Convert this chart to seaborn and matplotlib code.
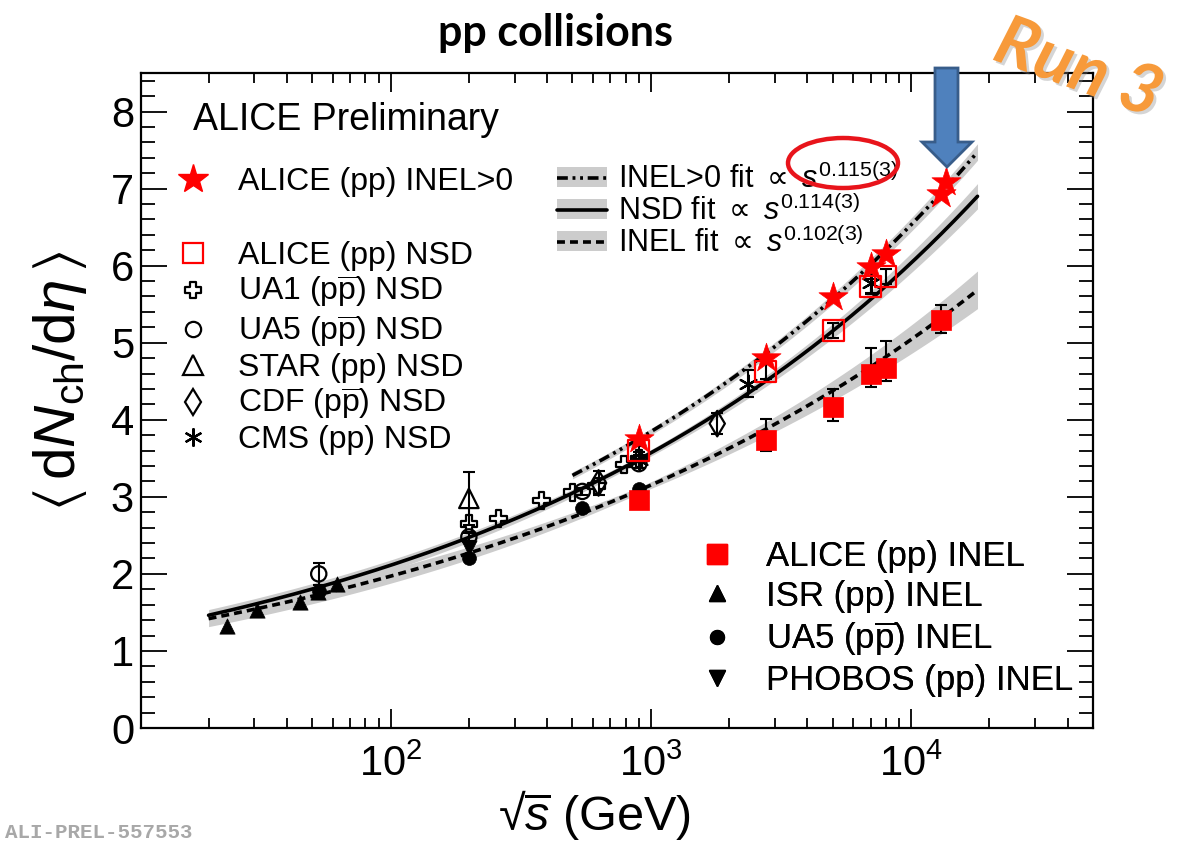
import numpy as np
import pandas as pd
import matplotlib
matplotlib.use("Agg")
import matplotlib.pyplot as plt
import seaborn as sns
from matplotlib.lines import Line2D
from matplotlib.patches import Patch, Ellipse, Polygon
from matplotlib.path import Path
import matplotlib.patheffects as pe
from matplotlib.ticker import LogLocator, MultipleLocator, NullFormatter

# ---------------- data ----------------
alice_inel0_x = [900, 2760, 5020, 7000, 8000, 13000, 13600]
alice_inel0_y = [3.75, 4.80, 5.59, 5.98, 6.15, 6.93, 7.08]

alice_nsd_x = [900, 2760, 5020, 7000, 8000]
alice_nsd_y = [3.60, 4.63, 5.16, 5.73, 5.86]
alice_nsd_err = [0.06, 0.10, 0.10, 0.10, 0.10]

ua1_x = [200, 260, 380, 500, 620, 790, 900]
ua1_y = [2.65, 2.72, 2.95, 3.06, 3.14, 3.42, 3.50]
ua5_nsd_x = [53, 200, 546, 900]
ua5_nsd_y = [2.00, 2.48, 3.07, 3.43]
ua5_nsd_err = [0.14, 0.05, 0.05, 0.05]
star_x = [200]
star_y = [2.98]
star_err = [0.34]
cdf_x = [630, 1800]
cdf_y = [3.18, 3.95]
cdf_err = [0.15, 0.14]
cms_x = [900, 2360, 7000]
cms_y = [3.48, 4.47, 5.78]
cms_err = [0.10, 0.17, 0.13]

alice_inel_x = [900, 2760, 5020, 7000, 8000, 13000]
alice_inel_y = [2.96, 3.74, 4.16, 4.59, 4.67, 5.30]
alice_inel_eup = [0.10, 0.27, 0.24, 0.34, 0.35, 0.19]
alice_inel_elo = [0.05, 0.14, 0.18, 0.17, 0.17, 0.18]
isr_x = [23.6, 30.8, 44.9, 52.6, 62.2]
isr_y = [1.33, 1.53, 1.64, 1.76, 1.87]
ua5_inel_x = [53, 200, 546, 900]
ua5_inel_y = [1.78, 2.21, 2.85, 3.10]
phobos_x = [200]
phobos_y = [2.34]

# power-law fits  dN/deta = a * s^b   (s = sqrt(s)^2)
fit_names = ["INEL>0", "NSD", "INEL"]
fit_norm = [0.785, 0.739, 0.770]
fit_exp = [0.115, 0.114, 0.102]
fit_xmin = [500, 20, 20]
fit_xmax = [18000, 18000, 18000]
fit_band = [0.003, 0.006, 0.012]
fit_labels = [r"INEL>0 fit $\mathsf{\propto}$ $s^{0.115(3)}$",
              r"NSD fit $\mathsf{\propto}$ $s^{0.114(3)}$",
              r"INEL fit $\mathsf{\propto}$ $s^{0.102(3)}$"]

# ---------------- style ----------------
sns.set_theme(style="ticks")
plt.rcParams["font.family"] = ["Liberation Sans", "DejaVu Sans"]
plt.rcParams["mathtext.fontset"] = "custom"
plt.rcParams["mathtext.rm"] = "Liberation Sans"
plt.rcParams["mathtext.it"] = "Liberation Sans:italic"
plt.rcParams["mathtext.bf"] = "Liberation Sans:bold"
plt.rcParams["mathtext.sf"] = "DejaVu Sans"
plt.rcParams["mathtext.fallback"] = "stixsans"
plt.rcParams["axes.linewidth"] = 1.5
plt.rcParams["text.color"] = "black"
plt.rcParams["axes.labelcolor"] = "black"
plt.rcParams["xtick.color"] = "black"
plt.rcParams["ytick.color"] = "black"
plt.rcParams["legend.labelcolor"] = "black"

W, H = 1179, 850
fig = plt.figure(figsize=(W / 100, H / 100), dpi=100)
fig.patch.set_facecolor("white")
L, R, T, B = 141, 1093, 73, 728
ax = fig.add_axes([L / W, 1 - B / H, (R - L) / W, (B - T) / H])
ax.set_facecolor("white")

# ---------------- fits ----------------
dash_styles = [(0, (3, 1.3, 0.8, 1.3, 0.8, 1.3)), "-", (0, (2.2, 1.4))]
band_color = "#cccccc"
for i in range(3):
    xs = np.geomspace(fit_xmin[i], fit_xmax[i], 300)
    ys = fit_norm[i] * xs ** (2 * fit_exp[i])
    r = (xs / 900.0) ** fit_band[i]
    lo = ys * np.minimum(r, 1 / r) - 0.04
    hi = ys * np.maximum(r, 1 / r) + 0.04
    ax.fill_between(xs, lo, hi, color=band_color, lw=0, zorder=1)
    sns.lineplot(x=xs, y=ys, ax=ax, color="black", lw=2.6, linestyle=dash_styles[i],
                 sort=False, estimator=None, zorder=2, legend=False)

# ---------------- markers ----------------
plus_v = np.array([[-1, 3], [1, 3], [1, 1], [3, 1], [3, -1], [1, -1], [1, -3],
                   [-1, -3], [-1, -1], [-3, -1], [-3, 1], [-1, 1], [-1, 3]]) / 3.0
plus_marker = Path(plus_v, closed=True)


def errs(x, y, yerr, color="black", z=4):
    ax.errorbar(x, y, yerr=yerr, fmt="none", ecolor=color, elinewidth=1.5,
                capsize=4, capthick=1.5, zorder=z)


def pts(x, y, marker, size, face, edge, lw=1.5, z=5):
    sns.scatterplot(x=x, y=y, marker=marker, s=size ** 2, facecolor=face,
                    edgecolor=edge, linewidth=lw, ax=ax, zorder=z, legend=False)


# INEL points
errs(alice_inel_x, alice_inel_y, [alice_inel_elo, alice_inel_eup])
pts(isr_x, isr_y, "^", 11, "black", "black", 0.5)
pts(ua5_inel_x, ua5_inel_y, "o", 10, "black", "black", 0.5)
pts(phobos_x, phobos_y, "v", 11, "black", "black", 0.5)
pts(alice_inel_x, alice_inel_y, "s", 15, "#ff0000", "#ff0000", 0.5, z=6)

# NSD points
errs(ua5_nsd_x, ua5_nsd_y, ua5_nsd_err)
errs(star_x, star_y, star_err)
errs(cdf_x, cdf_y, cdf_err)
errs(cms_x, cms_y, cms_err)
errs(alice_nsd_x, alice_nsd_y, alice_nsd_err)
pts(ua1_x, ua1_y, plus_marker, 12, "none", "black", 1.6)
pts(ua5_nsd_x, ua5_nsd_y, "o", 11, "none", "black", 1.6)
pts(star_x, star_y, "^", 14, "none", "black", 1.6)
pts(cdf_x, cdf_y, "d", 13, "none", "black", 1.6)
sns.scatterplot(x=cms_x, y=cms_y, marker=(6, 2, 0), s=13 ** 2, color="black",
                linewidth=1.6, ax=ax, zorder=5, legend=False)
pts(alice_nsd_x, alice_nsd_y, "s", 15, "none", "#ff0000", 1.6, z=6)

# INEL>0
pts(alice_inel0_x, alice_inel0_y, "*", 22, "#ff0000", "#ff0000", 0.5, z=7)

# ---------------- axes ----------------
ax.set_xscale("log")
ax.set_xlim(11, 5e4)
ax.set_ylim(0, 8.5)
ax.yaxis.set_major_locator(MultipleLocator(1))
ax.yaxis.set_minor_locator(MultipleLocator(0.2))
ax.xaxis.set_major_locator(LogLocator(base=10, numticks=10))
ax.xaxis.set_minor_locator(LogLocator(base=10, subs=np.arange(2, 10), numticks=20))
ax.xaxis.set_minor_formatter(NullFormatter())
ax.tick_params(which="both", direction="in", top=True, right=True, width=1.3,
               colors="black", labelsize=30)
ax.tick_params(axis="y", which="major", length=19, pad=5)
ax.tick_params(axis="y", which="minor", length=10)
ax.tick_params(axis="x", which="major", length=14, pad=12)
ax.tick_params(axis="x", which="minor", length=7)
for s in ax.spines.values():
    s.set_linewidth(1.6)
    s.set_color("black")

ax.set_xlabel(r"√$\overline{s}$ (GeV)", fontsize=35, color="black")
ax.xaxis.set_label_coords(0.476, -0.091)
ax.set_ylabel(r"$\langle\,\mathrm{d}N_{\mathrm{ch}}/\mathrm{d}\eta\,\rangle$", fontsize=42,
              color="black")
ax.yaxis.set_label_coords(-0.055, 0.53)

# ---------------- legends ----------------
ftr = fig.transFigure


def fpos(x, y):
    return (x / W, 1 - y / H)


common = dict(loc="upper left", bbox_transform=ftr, frameon=False, borderpad=0,
              borderaxespad=0, labelcolor="black")

inel0_handles = [Line2D([], [], ls="none", marker="*", ms=22, mfc="#ff0000", mec="#ff0000")]
leg0 = ax.legend(inel0_handles, ["ALICE (pp) INEL>0"], bbox_to_anchor=fpos(174, 167),
                 fontsize=23, handlelength=1.2, handletextpad=0.8, **common)
ax.add_artist(leg0)

nsd_handles = [
    Line2D([], [], ls="none", marker="s", ms=15, mfc="none", mec="#ff0000", mew=1.6),
    Line2D([], [], ls="none", marker=plus_marker, ms=12, mfc="none", mec="black", mew=1.6),
    Line2D([], [], ls="none", marker="o", ms=11, mfc="none", mec="black", mew=1.6),
    Line2D([], [], ls="none", marker="^", ms=14, mfc="none", mec="black", mew=1.6),
    Line2D([], [], ls="none", marker="d", ms=13, mfc="none", mec="black", mew=1.6),
    Line2D([], [], ls="none", marker=(6, 2, 0), ms=13, color="black", mew=1.6),
]
nsd_labels = ["ALICE (pp) NSD", r"UA1 (p$\overline{\mathrm{p}}$) NSD",
              r"UA5 (p$\overline{\mathrm{p}}$) NSD", "STAR (pp) NSD",
              r"CDF (p$\overline{\mathrm{p}}$) NSD", "CMS (pp) NSD"]
leg1 = ax.legend(nsd_handles, nsd_labels, bbox_to_anchor=fpos(174, 241),
                 fontsize=23, handlelength=1.2, handletextpad=0.8, labelspacing=0.1, **common)
ax.add_artist(leg1)

fit_handles = [(Patch(facecolor=band_color, edgecolor="none"),
                Line2D([], [], color="black", lw=2.6, linestyle=dash_styles[i])) for i in range(3)]
leg2 = ax.legend(fit_handles, fit_labels, bbox_to_anchor=fpos(557, 163),
                 fontsize=22, handlelength=1.65, handleheight=0.65, handletextpad=0.35,
                 labelspacing=0.0, **common)
ax.add_artist(leg2)

inel_handles = [
    Line2D([], [], ls="none", marker="s", ms=15, mfc="#ff0000", mec="#ff0000"),
    Line2D([], [], ls="none", marker="^", ms=11, mfc="black", mec="black"),
    Line2D([], [], ls="none", marker="o", ms=10, mfc="black", mec="black"),
    Line2D([], [], ls="none", marker="v", ms=11, mfc="black", mec="black"),
]
inel_labels = ["ALICE (pp) INEL", "ISR (pp) INEL", r"UA5 (p$\overline{\mathrm{p}}$) INEL",
               "PHOBOS (pp) INEL"]
leg3 = ax.legend(inel_handles, inel_labels, bbox_to_anchor=fpos(696, 540),
                 fontsize=25, handlelength=1.2, handletextpad=0.83, labelspacing=0.19, **common)
ax.add_artist(leg3)

fig.text(193 / W, 1 - 120 / H, "ALICE Preliminary", fontsize=27, ha="left", va="center",
         color="black")

# ---------------- annotations ----------------
fig.text(555 / W, 1 - 33 / H, "pp collisions", ha="center", va="center", fontsize=31,
         fontweight="bold", family=["Lato", "DejaVu Sans"], color="black")
fig.text(1078 / W, 1 - 70 / H, "Run 3", ha="center", va="center", rotation=-20,
         rotation_mode="anchor", color="#f79a3a", fontsize=50, fontweight="bold",
         fontstyle="italic", family=["Lato", "DejaVu Sans"],
         path_effects=[pe.withSimplePatchShadow(offset=(2, -2), shadow_rgbFace="#888888", alpha=0.35)])

ell = Ellipse((843 / 100, (H - 163) / 100), width=1.10, height=0.50,
              transform=fig.dpi_scale_trans, fill=False, edgecolor="#e8141b", lw=3.2, zorder=20)
fig.add_artist(ell)

arrow_px = [(935, 68), (958, 68), (958, 142), (972, 142), (947, 167), (922, 142), (935, 142)]
arrow = Polygon([(x / 100, (H - y) / 100) for x, y in arrow_px], closed=True,
                transform=fig.dpi_scale_trans, facecolor="#4f81bd", edgecolor="#385d8a",
                lw=2, zorder=20)
fig.add_artist(arrow)

fig.text(5 / W, 1 - 833 / H, "ALI-PREL-557553", fontsize=15, fontweight="bold",
         color="#a8a8a8", family=["Liberation Mono", "DejaVu Sans Mono"], ha="left", va="center")

fig.savefig("out.png", dpi=100, facecolor="white")
